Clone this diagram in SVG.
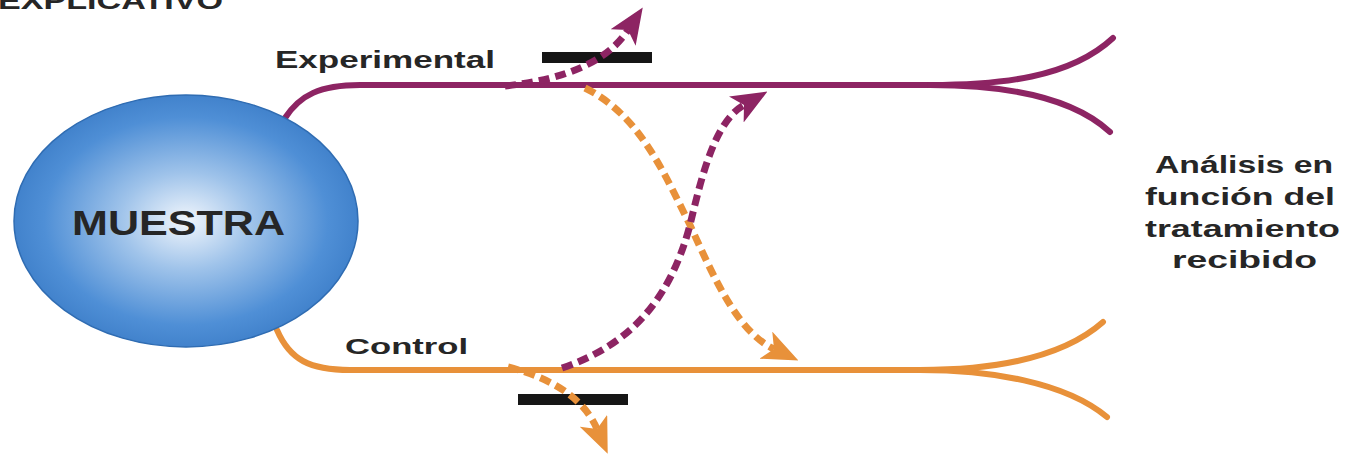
<svg xmlns="http://www.w3.org/2000/svg" width="1347" height="458" viewBox="0 0 1347 458">
  <style>
    .lbl { font-family: "Liberation Sans", Arial, sans-serif; font-weight: bold; fill: #262626; }
    .exp { fill: none; stroke: #8d2463; stroke-width: 6; stroke-linecap: round; }
    .ctl { fill: none; stroke: #e8913a; stroke-width: 6; stroke-linecap: round; }
    .dash { stroke-width: 7; stroke-dasharray: 11 6; stroke-linecap: butt; }
    .bar { fill: #161616; }
  </style>
  <defs>
    <radialGradient id="sphere" cx="0.5" cy="0.5" r="0.55" fx="0.5" fy="0.5">
      <stop offset="0" stop-color="#f1f6fc"/>
      <stop offset="0.35" stop-color="#9fc3ea"/>
      <stop offset="0.75" stop-color="#4f8fd6"/>
      <stop offset="1" stop-color="#3a7bc6"/>
    </radialGradient>
    <marker id="headExp" viewBox="0 0 36 30" refX="9" refY="15" markerWidth="36" markerHeight="30" markerUnits="userSpaceOnUse" orient="auto">
      <path d="M0,0 L36,15 L0,30 L9,15 Z" fill="#8d2463"/>
    </marker>
    <marker id="headCtl" viewBox="0 0 36 30" refX="9" refY="15" markerWidth="36" markerHeight="30" markerUnits="userSpaceOnUse" orient="auto">
      <path d="M0,0 L36,15 L0,30 L9,15 Z" fill="#e8913a"/>
    </marker>
  </defs>

  <rect width="1347" height="458" fill="#ffffff"/>

  <!-- heading, clipped by the top edge -->
  <text class="lbl" x="-2" y="9" font-size="23" textLength="225" lengthAdjust="spacingAndGlyphs">EXPLICATIVO</text>

  <g id="connectors">
    <!-- experimental arm with fork -->
    <path class="exp" d="M285 118 C300 95 320 85 360 85 L967 85"/>
    <path class="exp" d="M930 85 C1000 85 1070 78 1113 38"/>
    <path class="exp" d="M930 85 C1000 85 1070 95 1110 132"/>
    <!-- control arm with fork -->
    <path class="ctl" d="M277 330 C290 360 310 370 350 370 L940 370"/>
    <path class="ctl" d="M920 370 C990 370 1060 360 1103 322"/>
    <path class="ctl" d="M920 370 C990 370 1065 382 1107 417"/>
  </g>

  <g id="barrier-top"><rect class="bar" x="542" y="52" width="110" height="11"/></g>
  <g id="barrier-bottom"><rect class="bar" x="518" y="394" width="110" height="11"/></g>

  <g id="flows">
    <!-- dropout from experimental group -->
    <path class="exp dash" d="M505 86 Q598 76 628 30" marker-end="url(#headExp)"/>
    <!-- crossover experimental -> control -->
    <path class="ctl dash" d="M585 88 C640 115 665 175 690 225 C715 280 738 332 774 349" marker-end="url(#headCtl)"/>
    <!-- crossover control -> experimental -->
    <path class="exp dash" d="M562 368 C630 345 670 300 690 225 C703 170 716 121 744 105" marker-end="url(#headExp)"/>
    <!-- dropout from control group -->
    <path class="ctl dash" d="M508 367 Q578 385 597 429" marker-end="url(#headCtl)"/>
  </g>

  <g id="muestra">
    <ellipse cx="186" cy="221" rx="172" ry="126" fill="url(#sphere)" stroke="#2f6cb2" stroke-width="1.5"/>
    <text class="lbl" x="72" y="235" font-size="35" fill="#1a1a1a" textLength="213" lengthAdjust="spacingAndGlyphs">MUESTRA</text>
  </g>

  <g id="label-experimental">
    <text class="lbl" x="275" y="68" font-size="24" textLength="220" lengthAdjust="spacingAndGlyphs">Experimental</text>
  </g>
  <g id="label-control">
    <text class="lbl" x="345" y="354" font-size="22" textLength="123" lengthAdjust="spacingAndGlyphs">Control</text>
  </g>

  <g id="analisis">
    <text class="lbl" x="1155" y="173" font-size="23" textLength="178" lengthAdjust="spacingAndGlyphs">Análisis en</text>
    <text class="lbl" x="1145" y="205" font-size="23" textLength="190" lengthAdjust="spacingAndGlyphs">función del</text>
    <text class="lbl" x="1145" y="237" font-size="23" textLength="195" lengthAdjust="spacingAndGlyphs">tratamiento</text>
    <text class="lbl" x="1172" y="268" font-size="23" textLength="145" lengthAdjust="spacingAndGlyphs">recibido</text>
  </g>
</svg>
